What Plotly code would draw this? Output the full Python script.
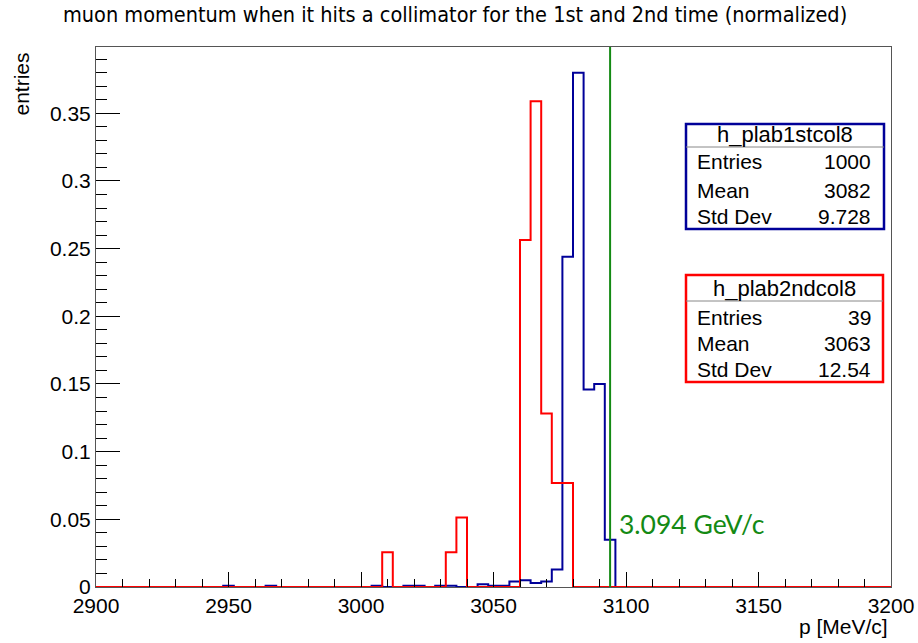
import numpy as np
import plotly.graph_objects as go

# ---------------- data ----------------
x_min, x_max, bin_width = 2900, 3200, 4

blue_bin_low = [2948, 2964, 3004, 3016, 3020, 3028, 3032, 3044, 3048, 3052,
                3056, 3060, 3064, 3068, 3072, 3076, 3080, 3084, 3088, 3092]
blue_values = [0.001, 0.001, 0.001, 0.001, 0.001, 0.001, 0.001, 0.002, 0.001, 0.001,
               0.004, 0.005, 0.003, 0.004, 0.013, 0.244, 0.380, 0.146, 0.150, 0.035]

red_bin_low = [3008, 3032, 3036, 3060, 3064, 3068, 3072, 3076]
red_values = [0.0256, 0.0256, 0.0513, 0.2564, 0.3590, 0.1282, 0.0769, 0.0769]

marker_momentum = 3094
marker_label = "3.094 GeV/c"

stats_blue = {"name": "h_plab1stcol8", "rows": [("Entries", "1000"), ("Mean", "3082"), ("Std Dev", "9.728")]}
stats_red = {"name": "h_plab2ndcol8", "rows": [("Entries", "39"), ("Mean", "3063"), ("Std Dev", "12.54")]}

title = "muon momentum when it hits a collimator for the 1st and 2nd time (normalized)"
x_title = "p [MeV/c]"
y_title = "entries"
y_max = 0.399

x_tick_vals = [2900, 2950, 3000, 3050, 3100, 3150, 3200]
y_tick_vals = [0, 0.05, 0.1, 0.15, 0.2, 0.25, 0.3, 0.35]
y_tick_text = ["0", "0.05", "0.1", "0.15", "0.2", "0.25", "0.3", "0.35"]

# ---------------- build step arrays ----------------
edges = np.arange(x_min, x_max + bin_width, bin_width)
nbins = len(edges) - 1


def full_hist(lows, vals):
    h = np.zeros(nbins)
    for lo, v in zip(lows, vals):
        h[(lo - x_min) // bin_width] = v
    return np.append(h, h[-1])


blue_y = full_hist(blue_bin_low, blue_values)
red_y = full_hist(red_bin_low, red_values)

BLUE = "#000099"
RED = "#ff0000"
GREEN = "#148a14"

fig = go.Figure()
fig.add_trace(go.Scatter(x=edges, y=blue_y, mode="lines", line=dict(shape="hv", color=BLUE, width=2),
                         hoverinfo="skip", showlegend=False))
fig.add_trace(go.Scatter(x=edges, y=red_y, mode="lines", line=dict(shape="hv", color=RED, width=2),
                         hoverinfo="skip", showlegend=False))
fig.add_trace(go.Scatter(x=[marker_momentum, marker_momentum], y=[0, y_max], mode="lines",
                         line=dict(color=GREEN, width=2), hoverinfo="skip", showlegend=False))

fig.add_annotation(x=marker_momentum + 2.6, y=0.0465, xref="x", yref="y", text=marker_label,
                   showarrow=False, xanchor="left", yanchor="middle",
                   font=dict(family="Lato", size=26.5, color=GREEN))

# plot area in pixels
L, R, T, B = 96, 891, 47, 587
W, H = 918, 643


def px(x):
    return (x - L) / (R - L)


def py(y):
    return (B - y) / (B - T)


TXT = "Liberation Sans, Arial, sans-serif"


def stats_box(st, color, top, bottom, sep, title_y, row_ys, left=686, right=884, lab_x=695, val_x=873):
    fig.add_shape(type="rect", xref="paper", yref="paper", x0=px(left), x1=px(right),
                  y0=py(bottom), y1=py(top), line=dict(color=color, width=2.5), fillcolor="white", layer="above")
    fig.add_shape(type="line", xref="paper", yref="paper", x0=px(left), x1=px(right),
                  y0=py(sep), y1=py(sep), line=dict(color="#888888", width=1), layer="above")
    fig.add_annotation(x=px((left + right) / 2), y=py(title_y), xref="paper", yref="paper", text=st["name"],
                       showarrow=False, xanchor="center", yanchor="middle", font=dict(family=TXT, size=22, color="black"))
    for (lab, val), ry in zip(st["rows"], row_ys):
        fig.add_annotation(x=px(lab_x), y=py(ry), xref="paper", yref="paper", text=lab, showarrow=False,
                           xanchor="left", yanchor="middle", font=dict(family=TXT, size=21, color="black"))
        fig.add_annotation(x=px(val_x), y=py(ry), xref="paper", yref="paper", text=val, showarrow=False,
                           xanchor="right", yanchor="middle", font=dict(family=TXT, size=21, color="black"))


stats_box(stats_blue, BLUE, 124, 229, 147, 134, [162, 190, 217])
stats_box(stats_red, RED, 275, 382, 301, 288, [317, 343, 369], right=883)

# titles
fig.add_annotation(x=px(455), y=py(15), xref="paper", yref="paper", text=title, showarrow=False,
                   xanchor="center", yanchor="middle",
                   font=dict(family="DejaVu Sans Condensed, DejaVu Sans", size=21.5, color="black"))
fig.add_annotation(x=px(890), y=py(627), xref="paper", yref="paper", text=x_title, showarrow=False,
                   xanchor="right", yanchor="middle", font=dict(family=TXT, size=21, color="black"))
fig.add_annotation(x=px(21), y=py(51), xref="paper", yref="paper", text=y_title, showarrow=False,
                   textangle=-90, xanchor="center", yanchor="top", font=dict(family=TXT, size=21, color="black"))

fig.update_layout(
    width=W, height=H,
    margin=dict(l=L, r=W - R, t=T, b=H - B, autoexpand=False),
    paper_bgcolor="white", plot_bgcolor="white",
    xaxis=dict(range=[x_min, x_max], tickmode="array", tickvals=x_tick_vals,
               ticktext=[str(v) for v in x_tick_vals], automargin=False,
               ticks="inside", ticklen=15, tickcolor="black", tickwidth=1,
               minor=dict(dtick=10, ticks="inside", ticklen=8, tickcolor="black", tickwidth=1, showgrid=False),
               showgrid=False, zeroline=False, showline=True, linecolor="#555555", linewidth=1, mirror=True,
               tickfont=dict(family=TXT, size=21, color="black")),
    yaxis=dict(range=[0, y_max], tickmode="array", tickvals=y_tick_vals, ticktext=y_tick_text, automargin=False,
               ticks="inside", ticklen=24, tickcolor="black", tickwidth=1,
               minor=dict(dtick=0.01, tick0=0, ticks="inside", ticklen=11, tickcolor="black", tickwidth=1, showgrid=False),
               showgrid=False, zeroline=False, showline=True, linecolor="#555555", linewidth=1, mirror=True,
               tickfont=dict(family=TXT, size=21, color="black")),
)

fig.write_html("out.html")
